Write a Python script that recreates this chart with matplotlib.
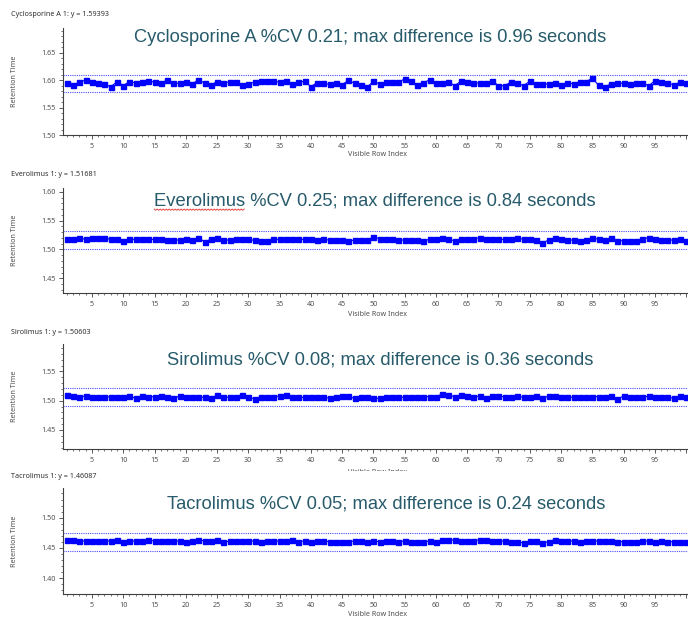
import matplotlib
matplotlib.use("Agg")
import matplotlib.pyplot as plt
from matplotlib.ticker import MultipleLocator
from matplotlib.transforms import Bbox, TransformedBbox
import numpy as np

row_index = list(range(1, 101))

cyclosporine = [1.5948, 1.5918, 1.5961, 1.6003, 1.5961, 1.5948, 1.5930, 1.5876, 1.5973, 1.5900,
                1.5973, 1.5948, 1.5961, 1.5991, 1.5961, 1.5948, 1.5997, 1.5942, 1.5942, 1.5961,
                1.5930, 1.6003, 1.5948, 1.5918, 1.5967, 1.5948, 1.5967, 1.5961, 1.5906, 1.5936,
                1.5961, 1.5991, 1.5991, 1.5985, 1.5961, 1.5991, 1.5936, 1.5961, 1.5979, 1.5882,
                1.5955, 1.5942, 1.5924, 1.5942, 1.5918, 1.5997, 1.5942, 1.5906, 1.5870, 1.5979,
                1.5930, 1.5961, 1.5961, 1.5961, 1.6021, 1.5979, 1.5918, 1.5948, 1.6009, 1.5942,
                1.5948, 1.5967, 1.5900, 1.5979, 1.5961, 1.5955, 1.5942, 1.5942, 1.5991, 1.5894,
                1.5900, 1.5967, 1.5942, 1.5900, 1.5979, 1.5930, 1.5930, 1.5930, 1.5942, 1.5918,
                1.5955, 1.5930, 1.5973, 1.5973, 1.6033, 1.5906, 1.5882, 1.5930, 1.5942, 1.5942,
                1.5930, 1.5942, 1.5955, 1.5894, 1.5991, 1.5967, 1.5955, 1.5912, 1.5961, 1.5948]

everolimus = [1.5186, 1.5186, 1.5198, 1.5174, 1.5198, 1.5198, 1.5198, 1.5174, 1.5186, 1.5145,
              1.5174, 1.5174, 1.5174, 1.5174, 1.5174, 1.5174, 1.5157, 1.5163, 1.5163, 1.5174,
              1.5163, 1.5203, 1.5134, 1.5174, 1.5203, 1.5163, 1.5163, 1.5174, 1.5174, 1.5174,
              1.5157, 1.5145, 1.5145, 1.5174, 1.5174, 1.5174, 1.5186, 1.5174, 1.5174, 1.5174,
              1.5157, 1.5174, 1.5163, 1.5163, 1.5169, 1.5145, 1.5163, 1.5163, 1.5163, 1.5215,
              1.5186, 1.5186, 1.5174, 1.5163, 1.5163, 1.5163, 1.5163, 1.5151, 1.5174, 1.5174,
              1.5203, 1.5174, 1.5151, 1.5186, 1.5174, 1.5186, 1.5203, 1.5186, 1.5186, 1.5174,
              1.5174, 1.5186, 1.5203, 1.5174, 1.5186, 1.5163, 1.5110, 1.5163, 1.5203, 1.5174,
              1.5163, 1.5163, 1.5151, 1.5163, 1.5203, 1.5174, 1.5163, 1.5198, 1.5151, 1.5151,
              1.5151, 1.5151, 1.5186, 1.5203, 1.5174, 1.5163, 1.5163, 1.5163, 1.5174, 1.5151]

sirolimus = [1.5097, 1.5080, 1.5069, 1.5080, 1.5069, 1.5057, 1.5057, 1.5069, 1.5069, 1.5069,
             1.5080, 1.5040, 1.5080, 1.5069, 1.5069, 1.5080, 1.5057, 1.5040, 1.5080, 1.5069,
             1.5069, 1.5069, 1.5057, 1.5040, 1.5097, 1.5069, 1.5057, 1.5069, 1.5097, 1.5057,
             1.5034, 1.5069, 1.5069, 1.5069, 1.5080, 1.5097, 1.5069, 1.5057, 1.5057, 1.5069,
             1.5057, 1.5069, 1.5040, 1.5057, 1.5080, 1.5074, 1.5040, 1.5057, 1.5069, 1.5040,
             1.5040, 1.5069, 1.5069, 1.5069, 1.5057, 1.5069, 1.5069, 1.5069, 1.5069, 1.5069,
             1.5114, 1.5097, 1.5069, 1.5097, 1.5080, 1.5057, 1.5086, 1.5040, 1.5080, 1.5080,
             1.5069, 1.5057, 1.5080, 1.5057, 1.5057, 1.5080, 1.5040, 1.5080, 1.5080, 1.5069,
             1.5069, 1.5057, 1.5057, 1.5057, 1.5069, 1.5069, 1.5069, 1.5080, 1.5029, 1.5080,
             1.5069, 1.5057, 1.5057, 1.5080, 1.5069, 1.5069, 1.5069, 1.5040, 1.5080, 1.5069]

tacrolimus = [1.4626, 1.4626, 1.4615, 1.4615, 1.4615, 1.4615, 1.4615, 1.4615, 1.4626, 1.4604,
              1.4615, 1.4615, 1.4615, 1.4626, 1.4615, 1.4615, 1.4615, 1.4615, 1.4615, 1.4604,
              1.4615, 1.4637, 1.4615, 1.4615, 1.4626, 1.4593, 1.4615, 1.4615, 1.4615, 1.4615,
              1.4615, 1.4604, 1.4615, 1.4615, 1.4615, 1.4615, 1.4626, 1.4604, 1.4615, 1.4604,
              1.4615, 1.4615, 1.4604, 1.4604, 1.4604, 1.4604, 1.4615, 1.4615, 1.4604, 1.4615,
              1.4604, 1.4615, 1.4615, 1.4604, 1.4615, 1.4604, 1.4604, 1.4604, 1.4615, 1.4604,
              1.4637, 1.4637, 1.4626, 1.4615, 1.4615, 1.4615, 1.4637, 1.4626, 1.4615, 1.4615,
              1.4615, 1.4604, 1.4604, 1.4582, 1.4615, 1.4615, 1.4582, 1.4604, 1.4637, 1.4615,
              1.4615, 1.4615, 1.4604, 1.4615, 1.4615, 1.4615, 1.4615, 1.4615, 1.4604, 1.4604,
              1.4604, 1.4604, 1.4615, 1.4615, 1.4604, 1.4615, 1.4604, 1.4604, 1.4604, 1.4604]

series = [cyclosporine, everolimus, sirolimus, tacrolimus]
header_labels = ["Cyclosporine A 1: y = 1.59393", "Everolimus 1: y = 1.51681",
                 "Sirolimus 1: y = 1.50603", "Tacrolimus 1: y = 1.46087"]
titles = ["Cyclosporine A %CV 0.21; max difference is 0.96 seconds",
          "Everolimus %CV 0.25; max difference is 0.84 seconds",
          "Sirolimus %CV 0.08; max difference is 0.36 seconds",
          "Tacrolimus %CV 0.05; max difference is 0.24 seconds"]
upper_limits = [1.6097, 1.5314, 1.5211, 1.4747]
lower_limits = [1.5782, 1.5006, 1.4909, 1.4456]
y_limits = [(1.50, 1.695), (1.424, 1.607), (1.4175, 1.597), (1.374, 1.5485)]

W, H = 688, 617
fig = plt.figure(figsize=(W / 100, H / 100), dpi=100)

def fx(px):
    return px / W

def fy(py):
    return 1 - py / H

# panel layout in pixels: (top, bottom)
panel_px = [(28, 135), (187.7, 293.3), (344, 449), (488.3, 594)]
header_y = [15, 174, 332, 477]
title_pos = [(370, 38), (375, 201), (380, 360), (386, 504)]
xlabel_y = [155, 314, 473, 614]

small_font = "Noto Sans"
grey = "#505050"
title_color = "#275B6B"
left_px = 63

title_artists = []
for i in range(4):
    top, bot = panel_px[i]
    ax = fig.add_axes([fx(left_px), fy(bot), 1 - fx(left_px), (bot - top) / H])
    ax.plot(row_index, series[i], color="#0000FF", lw=0.8, marker="s", ms=3.6,
            mec="#0000FF", mfc="#0000FF", zorder=3)
    ax.axhline(upper_limits[i], color="#4B4BFF", lw=0.8, ls=(0, (1, 1)), zorder=2)
    ax.axhline(lower_limits[i], color="#4B4BFF", lw=0.8, ls=(0, (1, 1)), zorder=2)
    ax.set_xlim(0.37, 100.3)
    ax.set_ylim(*y_limits[i])
    ax.xaxis.set_major_locator(MultipleLocator(5))
    ax.xaxis.set_minor_locator(MultipleLocator(1))
    ax.yaxis.set_major_locator(MultipleLocator(0.05))
    ax.yaxis.set_minor_locator(MultipleLocator(0.01))
    ax.xaxis.set_major_formatter(matplotlib.ticker.FuncFormatter(
        lambda v, p: "" if v < 1 or v > 99 else f"{int(round(v))}"))
    ax.yaxis.set_major_formatter(matplotlib.ticker.FormatStrFormatter("%.2f"))
    for s in ["top", "right"]:
        ax.spines[s].set_visible(False)
    for s in ["left", "bottom"]:
        ax.spines[s].set_color("#404040")
        ax.spines[s].set_linewidth(0.8)
    ax.tick_params(which="major", length=3, width=0.6, color="#404040",
                   labelsize=5.2, labelcolor=grey, pad=2.5)
    ax.tick_params(which="minor", length=1.5, width=0.5, color="#404040")
    for lab in ax.get_xticklabels() + ax.get_yticklabels():
        lab.set_fontfamily(small_font)
    ax.set_facecolor("white")

    fig.text(fx(11), fy(header_y[i]), header_labels[i], fontsize=5.2,
             family=small_font, color="#303030", ha="left", va="center")
    t = fig.text(fx(title_pos[i][0]), fy(title_pos[i][1]), titles[i], fontsize=13.2,
                 family="Liberation Sans", color=title_color, ha="center", va="center",
                 zorder=5)
    title_artists.append(t)
    fig.text(fx(15), fy((top + bot) / 2), "Retention Time", rotation=90, fontsize=5.2,
             family=small_font, color=grey, ha="center", va="center")
    xl = fig.text(fx(377), fy(xlabel_y[i]), "Visible Row Index", fontsize=5.2,
                  family=small_font, color=grey, ha="center", va="center")
    if i == 2:
        xl.set_clip_box(TransformedBbox(Bbox([[0, fy(471)], [1, 1]]), fig.transFigure))
        xl.set_clip_on(True)

# red spell-check squiggle under "Everolimus"
fig.canvas.draw()
renderer = fig.canvas.get_renderer()
t = title_artists[1]
bb = t.get_window_extent(renderer)
tmp = fig.text(0, 0, "Everolimus", fontsize=13.2, family="Liberation Sans")
wb = tmp.get_window_extent(renderer)
tmp.remove()
x0 = bb.x0
x1 = bb.x0 + wb.width
ybase = bb.y0 + 0.5
xs = np.arange(x0, x1, 1.5)
ys = ybase + np.where(np.arange(len(xs)) % 2 == 0, 0.0, -1.3)
fig.add_artist(matplotlib.lines.Line2D(xs / W, ys / H, color="#E03030", lw=0.6,
                                       transform=fig.transFigure))

fig.savefig("out.png", dpi=100, facecolor="white")
